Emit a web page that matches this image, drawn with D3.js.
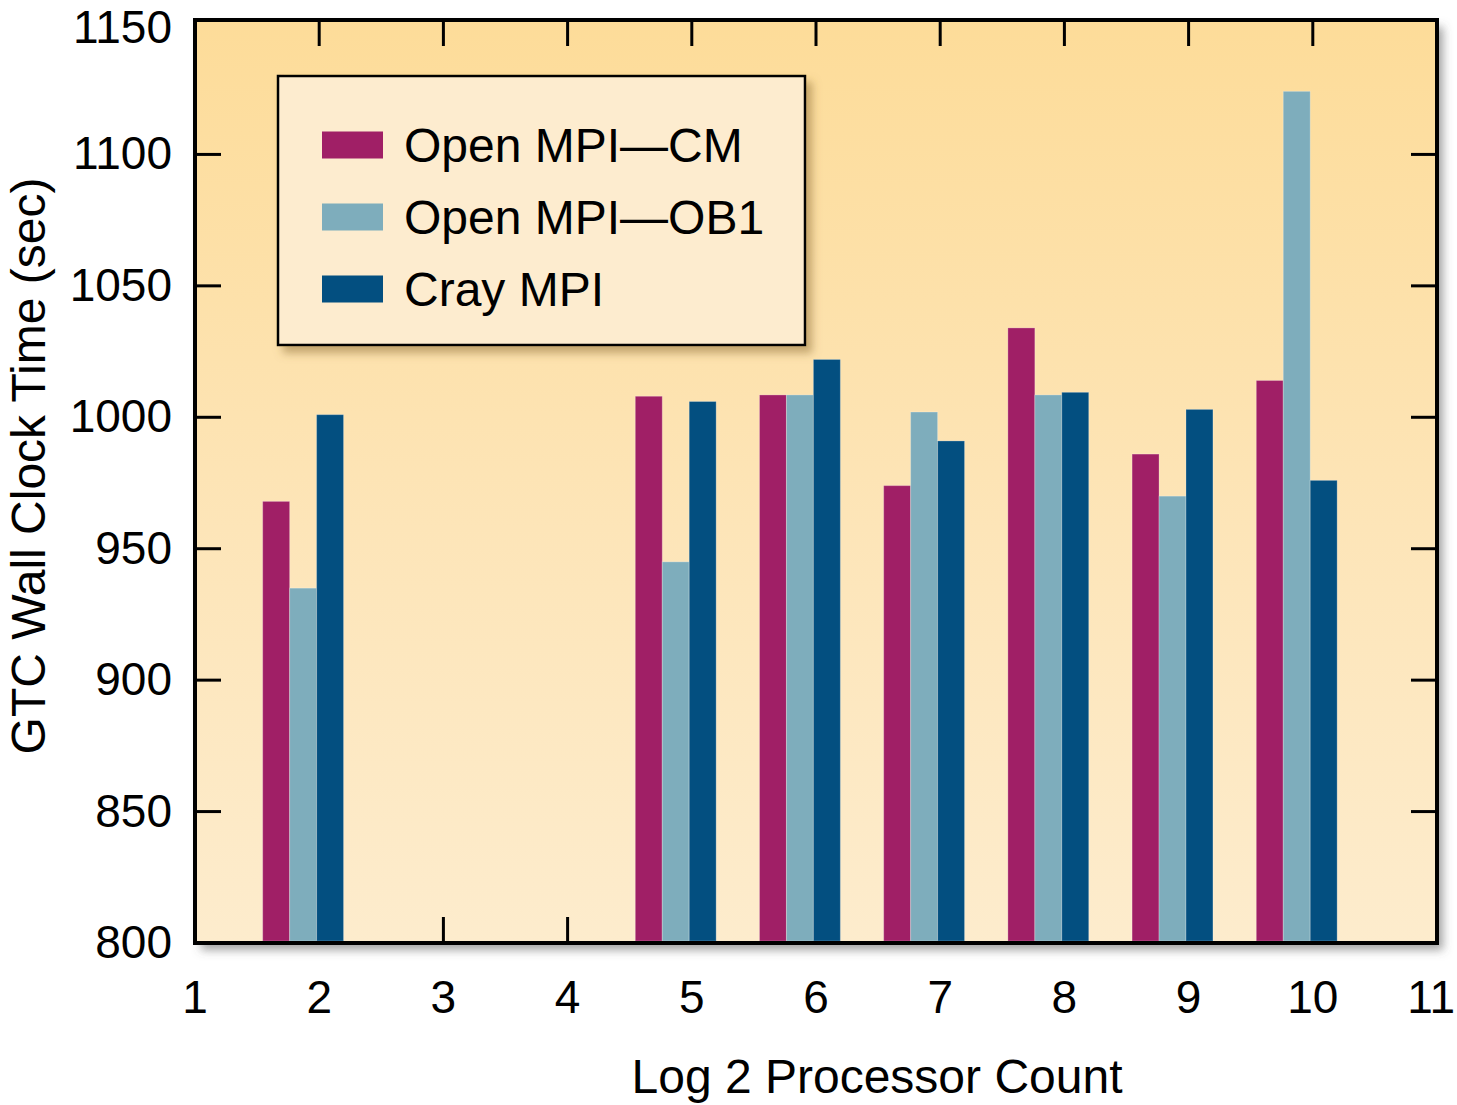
<!DOCTYPE html>
<html>
<head>
<meta charset="utf-8">
<script src="https://cdn.jsdelivr.net/npm/d3@7"></script>
<style>
  html, body { margin: 0; padding: 0; background: #ffffff; }
  svg { display: block; }
  text { font-family: "Liberation Sans", Arial, Helvetica, sans-serif; fill: #000; }
</style>
</head>
<body>
<svg id="chart" width="1457" height="1105"></svg>
<script>
// ---- data ----
const categories = [2, 5, 6, 7, 8, 9, 10];
const seriesNames = ["Open MPI\u2014CM", "Open MPI\u2014OB1", "Cray MPI"];
const openMpiCM  = [968, 1008, 1008.5, 974, 1034, 986, 1014];
const openMpiOB1 = [935, 945, 1008.5, 1002, 1008.5, 970, 1124];
const crayMPI    = [1001, 1006, 1022, 991, 1009.5, 1003, 976];
const xTicks = [1, 2, 3, 4, 5, 6, 7, 8, 9, 10, 11];
const yTicks = [800, 850, 900, 950, 1000, 1050, 1100, 1150];
const seriesColors = ["#a01f66", "#7eadbc", "#034f80"];
const xTitle = "Log 2 Processor Count";
const yTitle = "GTC Wall Clock Time (sec)";

const seriesValues = [openMpiCM, openMpiOB1, crayMPI];

// ---- layout ----
const W = 1457;
const L = 195, R = 1437, T = 20, B = 943;
const svg = d3.select("#chart");

const x = d3.scaleLinear().domain([1, 11]).range([L, R]);
const y = d3.scaleLinear().domain([800, 1150]).range([B, 23]);

const defs = svg.append("defs");
const grad = defs.append("linearGradient").attr("id", "bg")
  .attr("x1", 0).attr("y1", 0).attr("x2", 0).attr("y2", 1);
grad.append("stop").attr("offset", "0%").attr("stop-color", "#fddc99");
grad.append("stop").attr("offset", "55%").attr("stop-color", "#fde5b8");
grad.append("stop").attr("offset", "100%").attr("stop-color", "#fdeccd");

const sh = defs.append("filter").attr("id", "shadow")
  .attr("x", "-5%").attr("y", "-5%").attr("width", "115%").attr("height", "115%");
sh.append("feDropShadow").attr("dx", 6).attr("dy", 7).attr("stdDeviation", 5)
  .attr("flood-color", "#555").attr("flood-opacity", 0.55);

const sh2 = defs.append("filter").attr("id", "shadow2")
  .attr("x", "-5%").attr("y", "-5%").attr("width", "115%").attr("height", "120%");
sh2.append("feDropShadow").attr("dx", 6).attr("dy", 7).attr("stdDeviation", 4)
  .attr("flood-color", "#8a6a30").attr("flood-opacity", 0.5);

// background with shadow
svg.append("rect").attr("x", L).attr("y", T).attr("width", R - L).attr("height", B - T)
  .attr("fill", "url(#bg)").attr("filter", "url(#shadow)");

// ticks (inside)
const tickLen = 26;
const tg = svg.append("g").attr("stroke", "#000").attr("stroke-width", 3);
xTicks.slice(1, -1).forEach(t => {
  tg.append("line").attr("x1", x(t)).attr("x2", x(t)).attr("y1", T).attr("y2", T + tickLen);
  tg.append("line").attr("x1", x(t)).attr("x2", x(t)).attr("y1", B).attr("y2", B - tickLen);
});
yTicks.slice(1, -1).forEach(t => {
  tg.append("line").attr("x1", L).attr("x2", L + tickLen).attr("y1", y(t)).attr("y2", y(t));
  tg.append("line").attr("x1", R).attr("x2", R - tickLen).attr("y1", y(t)).attr("y2", y(t));
});

// bars
const barW = 0.217;
const startOff = -0.455;
const barG = svg.append("g");
seriesValues.forEach((vals, si) => {
  barG.selectAll(null).data(categories.map((c, i) => ({ c, v: vals[i] })))
    .enter().append("rect")
    .attr("x", d => x(d.c + startOff + si * barW))
    .attr("width", d => x(d.c + startOff + (si + 1) * barW) - x(d.c + startOff + si * barW))
    .attr("y", d => y(d.v))
    .attr("height", d => (B - 2) - y(d.v))
    .attr("fill", seriesColors[si])
    .attr("stroke", "#fff").attr("stroke-opacity", 0.25).attr("stroke-width", 1);
});

// frame
svg.append("rect").attr("x", L).attr("y", T).attr("width", R - L).attr("height", B - T)
  .attr("fill", "none").attr("stroke", "#000").attr("stroke-width", 4);

// tick labels
svg.append("g").selectAll("text").data(xTicks).enter().append("text")
  .attr("x", d => d === 11 ? W - 2 : x(d)).attr("y", 1013)
  .attr("text-anchor", d => d === 11 ? "end" : "middle").attr("font-size", 46)
  .text(d => d);
svg.append("g").selectAll("text").data(yTicks).enter().append("text")
  .attr("x", 172).attr("y", d => Math.max(y(d) + 15, 43))
  .attr("text-anchor", "end").attr("font-size", 46)
  .text(d => d);

// axis titles
svg.append("text").attr("x", 877).attr("y", 1093).attr("text-anchor", "middle")
  .attr("font-size", 48).text(xTitle);
svg.append("text").attr("transform", "translate(45,466) rotate(-90)")
  .attr("text-anchor", "middle").attr("font-size", 48).text(yTitle);

// legend
const lg = svg.append("g");
lg.append("rect").attr("x", 278).attr("y", 76).attr("width", 527).attr("height", 269)
  .attr("fill", "#fdeccf").attr("stroke", "#000").attr("stroke-width", 2.5)
  .attr("filter", "url(#shadow2)");
seriesNames.forEach((n, i) => {
  const cy = 145 + i * 72;
  lg.append("rect").attr("x", 322).attr("y", cy - 13.5).attr("width", 61).attr("height", 27)
    .attr("fill", seriesColors[i]);
  lg.append("text").attr("x", 404).attr("y", cy + 17).attr("font-size", 48).text(n);
});
</script>
</body>
</html>
